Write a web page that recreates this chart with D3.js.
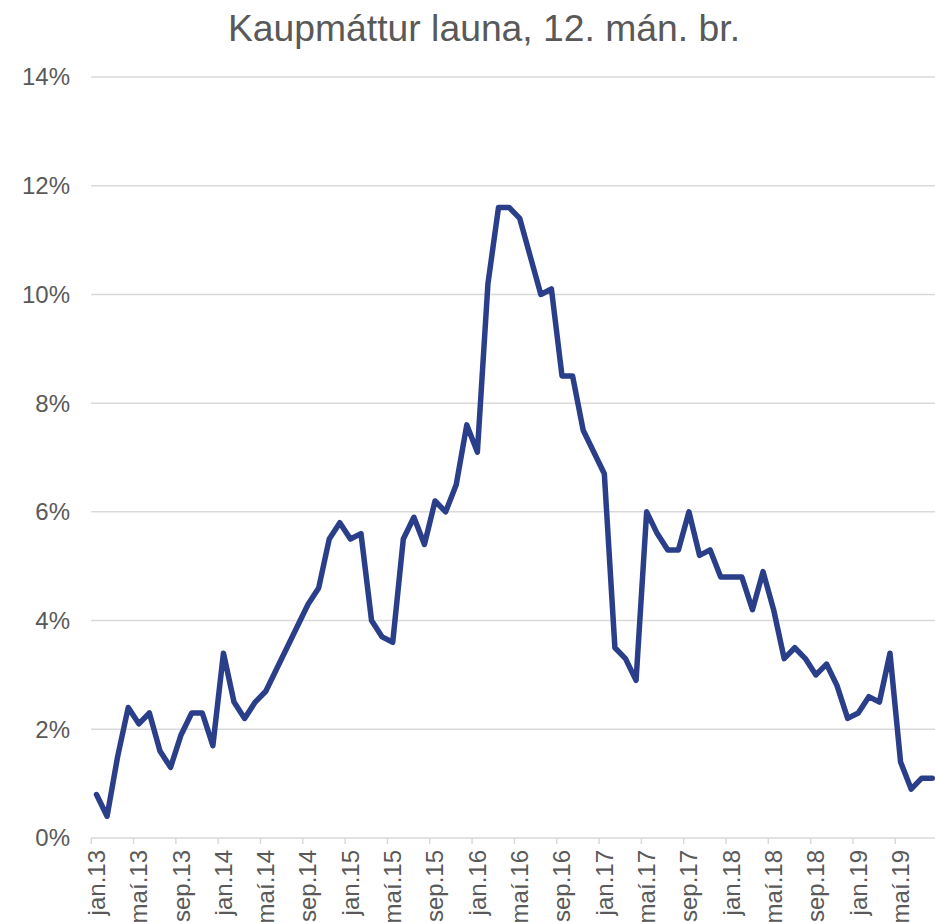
<!DOCTYPE html>
<html><head><meta charset="utf-8">
<script src="https://cdn.jsdelivr.net/npm/d3@7/dist/d3.min.js"></script>
<style>body{margin:0;background:#fff;} svg{display:block;}</style>
</head><body>
<svg id="chart" width="935" height="922"></svg>
<script>
const title = "Kaupmáttur launa, 12. mán. br.";
const monthNames = ["jan","feb","mar","apr","maí","jún","júl","ágú","sep","okt","nóv","des"];
const years = ["13","14","15","16","17","18","19"];
const values = [
  0.8,0.4,1.5,2.4,2.1,2.3,1.6,1.3,1.9,2.3,2.3,1.7,
  3.4,2.5,2.2,2.5,2.7,3.1,3.5,3.9,4.3,4.6,5.5,5.8,
  5.5,5.6,4.0,3.7,3.6,5.5,5.9,5.4,6.2,6.0,6.5,7.6,
  7.1,10.2,11.6,11.6,11.4,10.7,10.0,10.1,8.5,8.5,7.5,7.1,
  6.7,3.5,3.3,2.9,6.0,5.6,5.3,5.3,6.0,5.2,5.3,4.8,
  4.8,4.8,4.2,4.9,4.2,3.3,3.5,3.3,3.0,3.2,2.8,2.2,
  2.3,2.6,2.5,3.4,1.4,0.9,1.1,1.1
];
const yTicks = [0,2,4,6,8,10,12,14];

const categories = [];
years.forEach(y => monthNames.forEach(m => categories.push(m + "." + y)));
const cats = categories.slice(0, values.length);
const data = cats.map((c, i) => ({cat: c, v: values[i]}));

const svg = d3.select("#chart");
const pLeft = 91.2, pRight = 937.6, pTop = 77, pBottom = 838;
const x = d3.scaleBand().domain(cats).range([pLeft, pRight]).padding(0);
const y = d3.scaleLinear().domain([0, 14]).range([pBottom, pTop]);
const grey = "#595959";
const font = "'Liberation Sans', Arial, sans-serif";

svg.append("text").attr("x", 484).attr("y", 41).attr("text-anchor", "middle")
  .attr("font-family", font).attr("font-size", 37.3).attr("fill", grey).text(title);

// gridlines
svg.append("g").selectAll("line").data(yTicks.filter(d => d > 0)).join("line")
  .attr("x1", pLeft).attr("x2", 935).attr("y1", d => y(d)).attr("y2", d => y(d))
  .attr("stroke", "#d9d9d9").attr("stroke-width", 1.5);

// y labels
svg.append("g").selectAll("text").data(yTicks).join("text")
  .attr("x", 70).attr("y", d => y(d)).attr("dy", "0.35em").attr("text-anchor", "end")
  .attr("font-family", font).attr("font-size", 24).attr("fill", grey)
  .text(d => d + "%");

// x axis
const xAxis = svg.append("g");
xAxis.append("line").attr("x1", pLeft).attr("x2", 935).attr("y1", pBottom).attr("y2", pBottom)
  .attr("stroke", "#d9d9d9").attr("stroke-width", 1.5);
const tickIdx = d3.range(0, cats.length, 4);
xAxis.selectAll("line.tk").data(tickIdx).join("line").attr("class", "tk")
  .attr("x1", i => x(cats[i])).attr("x2", i => x(cats[i]))
  .attr("y1", pBottom).attr("y2", pBottom + 6)
  .attr("stroke", "#d9d9d9").attr("stroke-width", 1.5);
xAxis.selectAll("text").data(tickIdx).join("text")
  .attr("transform", i => `translate(${x(cats[i]) + x.bandwidth()/2},${pBottom + 12}) rotate(-90)`)
  .attr("dy", "0.35em").attr("text-anchor", "end")
  .attr("font-family", font).attr("font-size", 24).attr("fill", grey)
  .text(i => cats[i]);

// line
const line = d3.line().x(d => x(d.cat) + x.bandwidth()/2).y(d => y(d.v));
svg.append("path").datum(data).attr("d", line)
  .attr("fill", "none").attr("stroke", "#2b3e8a").attr("stroke-width", 5.5)
  .attr("stroke-linejoin", "round").attr("stroke-linecap", "round");
</script>
</body></html>
